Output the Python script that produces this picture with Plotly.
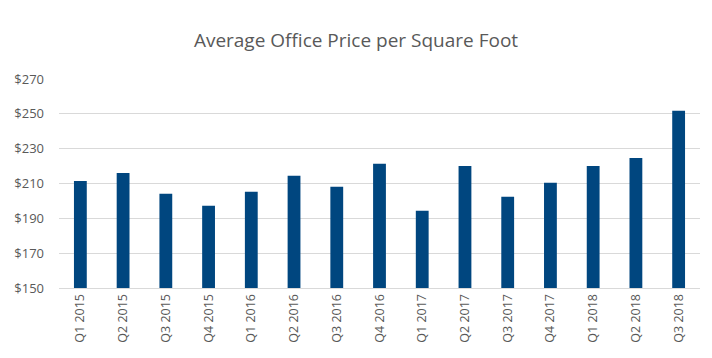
import plotly.graph_objects as go

quarters = ["Q1 2015", "Q2 2015", "Q3 2015", "Q4 2015", "Q1 2016", "Q2 2016", "Q3 2016",
            "Q4 2016", "Q1 2017", "Q2 2017", "Q3 2017", "Q4 2017", "Q1 2018", "Q2 2018", "Q3 2018"]
prices = [211.5, 216.1, 204.1, 197.2, 205.2, 214.4, 208.1,
          221.3, 194.3, 220.1, 202.4, 210.4, 220.1, 224.7, 251.7]
y_ticks = [150, 170, 190, 210, 230, 250, 270]
y_tick_labels = ["$" + str(v) for v in y_ticks]

fig = go.Figure()
fig.add_trace(go.Bar(x=quarters, y=prices, marker=dict(color="#00467F", line=dict(width=0)),
                     width=0.3))

fig.update_layout(
    width=712, height=358,
    paper_bgcolor="white", plot_bgcolor="white",
    margin=dict(l=59, r=12, t=79, b=70),
    title=dict(text="Average Office Price per Square Foot", x=0.5, xanchor="center",
               y=1 - 40 / 358, yanchor="middle",
               font=dict(family="Open Sans, Noto Sans, sans-serif", size=19, color="#595959")),
    font=dict(family="Open Sans, Noto Sans, sans-serif", size=12, color="#595959"),
    showlegend=False,
    bargap=0.7,
)
fig.update_xaxes(tickangle=-90, showgrid=False, showline=True, linecolor="#D9D9D9", linewidth=1,
                 ticks="", tickfont=dict(size=12.5, color="#595959"))
fig.update_yaxes(range=[150, 270], tickvals=y_ticks, ticktext=y_tick_labels, showgrid=True,
                 gridcolor="#D9D9D9", gridwidth=1, zeroline=False, ticks="",
                 tickfont=dict(size=13, color="#595959"), ticklabelstandoff=14)

fig.write_html("out.html", config={"displayModeBar": False},
               post_script="document.body.style.margin='0';")
